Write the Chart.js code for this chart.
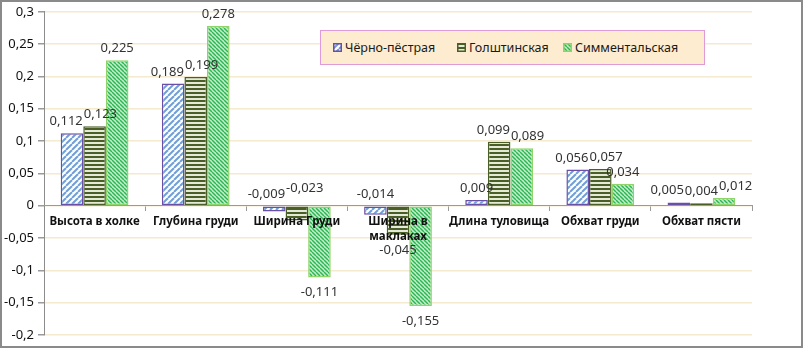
<!DOCTYPE html>
<html>
<head>
<meta charset="utf-8">
<script src="https://cdn.jsdelivr.net/npm/chart.js@4.4.0/dist/chart.umd.min.js"></script>
<style>
  html, body { margin: 0; padding: 0; background: #fff; }
  #wrap { position: relative; width: 803px; height: 348px; }
  #frame { position: absolute; left: 0; top: 0; width: 799px; height: 344px; border: 2px solid #8a8a8a; pointer-events: none; }
  #legend {
    position: absolute; left: 320px; top: 30px; width: 383px; height: 33px;
    background: #fdecd0; border: 1px solid #e09ad8;
    font-family: "Noto Sans", sans-serif; font-size: 12.5px; color: #1a1a1a;
  }
  #legend .item { display: flex; align-items: center; position: absolute; top: 8px; }
  #legend canvas { margin-right: 3px; }
</style>
</head>
<body>
<div id="wrap">
  <canvas id="grafica" width="803" height="348"></canvas>
  <div id="legend"></div>
  <div id="frame"></div>
</div>
<script>
// Datos del gráfico
const categorias = ['Высота в холке', 'Глубина груди', 'Ширина Груди', ['Ширина в', 'маклаках'], 'Длина туловища', 'Обхват груди', 'Обхват пясти'];
const nombresSeries = ['Чёрно-пёстрая', 'Голштинская', 'Симментальская'];
const chernoPestraya = [0.112, 0.189, -0.009, -0.014, 0.009, 0.056, 0.005];
const golshtinskaya = [0.123, 0.199, -0.023, -0.045, 0.099, 0.057, 0.004];
const simmentalskaya = [0.225, 0.278, -0.111, -0.155, 0.089, 0.034, 0.012];
const yMin = -0.2, yMax = 0.3, yPaso = 0.05;

const fmt = v => String(Math.round(v * 1000) / 1000).replace('.', ',');

// --- Patrones de relleno ---
function patronDiagonal(fondo, color, size, ancho, invertido) {
    const c = document.createElement('canvas');
    c.width = size; c.height = size;
    const g = c.getContext('2d');
    g.fillStyle = fondo; g.fillRect(0, 0, size, size);
    g.strokeStyle = color; g.lineWidth = ancho;
    for (let k = -1; k <= 1; k++) {
        g.beginPath();
        if (invertido) { g.moveTo(k * size, 0); g.lineTo(k * size + size, size); }
        else { g.moveTo(k * size, size); g.lineTo(k * size + size, 0); }
        g.stroke();
    }
    return g.createPattern(c, 'repeat');
}
function patronHorizontal(fondo, color, size, ancho) {
    const c = document.createElement('canvas');
    c.width = size; c.height = size;
    const g = c.getContext('2d');
    g.fillStyle = fondo; g.fillRect(0, 0, size, size);
    g.fillStyle = color; g.fillRect(0, 0, size, ancho);
    return g.createPattern(c, 'repeat');
}

const ctxMain = document.getElementById('grafica').getContext('2d');
const p1 = patronDiagonal('#ffffff', '#6f9fd8', 6, 2, false);
const p2 = patronHorizontal('#e4ead6', '#4a5e28', 4, 2);
const p3 = patronDiagonal('#bfeec8', '#2fb455', 4, 1.4, true);
const bordes = ['#6a4fa6', '#4a5e28', '#8fd46a'];
const rellenos = [p1, p2, p3];

// --- Etiquetas de datos ---
const etiquetasPlugin = {
    id: 'etiquetas',
    afterDatasetsDraw(chart) {
        const ctx = chart.ctx;
        ctx.save();
        ctx.font = '13px "Noto Sans", sans-serif';
        ctx.fillStyle = '#333';
        ctx.textAlign = 'center';
        ctx.textBaseline = 'alphabetic';
        const n = chart.data.labels.length;
        for (let i = 0; i < n; i++) {
            let cajas = [];
            chart.data.datasets.forEach((ds, d) => {
                const bar = chart.getDatasetMeta(d).data[i];
                const v = ds.data[i];
                const txt = fmt(v);
                const w = ctx.measureText(txt).width;
                let yb;
                if (v >= 0) yb = bar.y - 8;
                else if (v > -0.03) yb = bar.base - 8 - d * 6;
                else yb = bar.y + 19;
                cajas.push({ x: bar.x, y: yb, w: w, txt: txt });
            });
            // separar etiquetas que se encimen
            for (let it = 0; it < 6; it++) {
                for (let k = 1; k < cajas.length; k++) {
                    const a = cajas[k - 1], b = cajas[k];
                    if (Math.abs(a.y - b.y) >= 11) continue;
                    const solape = (a.x + a.w / 2) - (b.x - b.w / 2) + 1;
                    if (solape > 0) { a.x -= solape / 2; b.x += solape / 2; }
                }
            }
            cajas.forEach(c => ctx.fillText(c.txt, c.x, c.y));
        }
        ctx.restore();
    }
};

const chart = new Chart(ctxMain, {
    type: 'bar',
    data: {
        labels: categorias,
        datasets: [chernoPestraya, golshtinskaya, simmentalskaya].map((datos, d) => ({
            label: nombresSeries[d],
            data: datos,
            backgroundColor: rellenos[d],
            borderColor: bordes[d],
            borderWidth: 1.5,
            borderSkipped: false,
            barPercentage: 1,
            categoryPercentage: 0.67
        }))
    },
    options: {
        responsive: false,
        animation: false,
        layout: { padding: { top: 10, right: 51, bottom: 13, left: 0 } },
        plugins: { legend: { display: false }, tooltip: { enabled: false } },
        scales: {
            x: {
                position: { y: 0 },
                grid: { display: true, drawOnChartArea: false, tickLength: 5, color: '#9a9a9a', offset: true },
                border: { color: '#9a9a9a', z: 1 },
                ticks: {
                    z: 2,
                    padding: 3,
                    maxRotation: 0,
                    minRotation: 0,
                    autoSkip: false,
                    color: '#111',
                    font: { family: '"Noto Sans", sans-serif', size: 11.5, weight: 'bold', lineHeight: 1.35 }
                }
            },
            y: {
                min: yMin, max: yMax,
                afterFit(scale) { scale.width = 44; },
                grid: { color: '#f3ead0', lineWidth: 1.5, tickColor: '#9a9a9a', tickLength: 6 },
                border: { color: '#8c8c8c' },
                ticks: {
                    stepSize: yPaso,
                    padding: 4,
                    color: '#111',
                    font: { family: '"Noto Sans", sans-serif', size: 13 },
                    callback: v => fmt(Math.round(v * 100) / 100)
                }
            }
        }
    },
    plugins: [etiquetasPlugin]
});

// --- Leyenda ---
const leyenda = document.getElementById('legend');
const posLeyenda = [12, 136, 242];
nombresSeries.forEach((nombre, d) => {
    const item = document.createElement('div');
    item.className = 'item';
    item.style.left = posLeyenda[d] + 'px';
    const sw = document.createElement('canvas');
    sw.width = 9; sw.height = 9;
    const g = sw.getContext('2d');
    g.fillStyle = rellenos[d]; g.fillRect(0, 0, 9, 9);
    g.strokeStyle = bordes[d]; g.lineWidth = 1.5; g.strokeRect(0.75, 0.75, 7.5, 7.5);
    const t = document.createElement('span');
    t.textContent = nombre;
    item.appendChild(sw); item.appendChild(t);
    leyenda.appendChild(item);
});
</script>
</body>
</html>
